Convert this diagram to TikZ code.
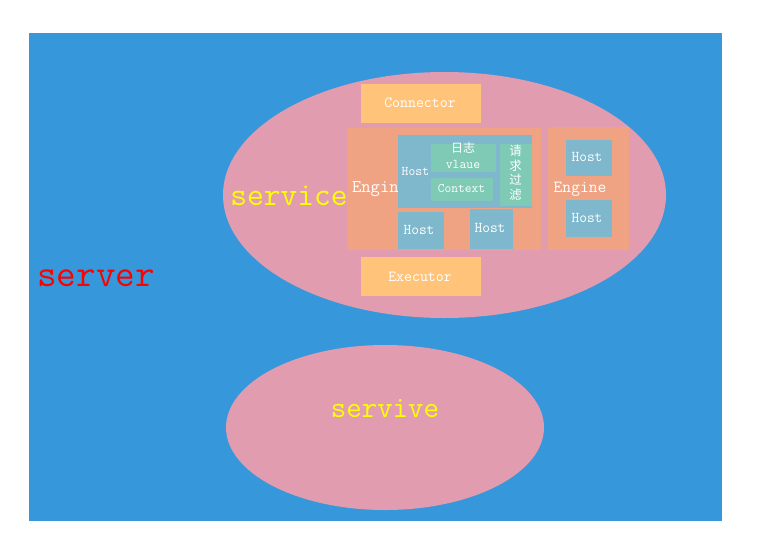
\documentclass[tikz,border=0pt]{standalone}
\usepackage{fontspec}
\newfontfamily\cjk{Noto Sans CJK SC}
\definecolor{bgblue}{RGB}{54,152,219}
\definecolor{pinkel}{RGB}{226,156,175}
\definecolor{orangebox}{RGB}{255,195,122}
\definecolor{enginec}{RGB}{240,163,131}
\definecolor{hostc}{RGB}{127,184,204}
\definecolor{greenc}{RGB}{126,202,181}
\definecolor{yel}{RGB}{255,255,0}
\newcommand{\fs}[1]{\ttfamily\fontsize{#1}{#1}\selectfont}
\newcommand{\cfs}[1]{\cjk\fontsize{#1}{#1}\selectfont}
\tikzset{
  wtxt/.style={text=white, inner sep=0pt},
}
\begin{document}
\begin{tikzpicture}[x=1pt,y=-1pt]
\useasboundingbox (0,0) rectangle (760,550);
\fill[white] (0,0) rectangle (760,550);
% server background
\fill[bgblue] (29,33) rectangle (722,521);
\node[text=red, inner sep=0pt, font=\fs{38}] (server) at (96,278) {server};
% ellipses
\fill[pinkel] (444.5,195) ellipse [x radius=221.5, y radius=123];
\fill[pinkel] (385,427.5) ellipse [x radius=159, y radius=82.5];
\node[text=yel, inner sep=0pt, font=\fs{32.5}] (service) at (289,196) {service};
\node[text=yel, inner sep=0pt, font=\fs{30}] (servive) at (385,409) {servive};
% connector / executor
\fill[orangebox] (361,84) rectangle (481,123);
\node[wtxt, font=\fs{15.4}] (conn) at (420,103) {Connector};
\fill[orangebox] (361,257) rectangle (481,296);
\node[wtxt, font=\fs{15.4}] (exec) at (420,277) {Executor};
% left engine
\fill[enginec] (347,128) rectangle (541,250);
\node[wtxt, font=\fs{18}, anchor=west] (eng1) at (352,189) {Engine};
% big host
\fill[hostc] (398,135) rectangle (532,207.5);
\node[wtxt, font=\fs{13.3}, anchor=west] (h1) at (401.5,171) {Host};
\fill[greenc] (431,144) rectangle (496,171.5);
\node[wtxt, font=\cfs{12}] (rz) at (463,148) {日志};
\node[wtxt, font=\fs{13.3}] (vl) at (463,164) {vlaue};
\fill[greenc] (431,177.5) rectangle (492.5,200.5);
\node[wtxt, font=\fs{13.1}] (ctx) at (461.5,188) {Context};
\fill[greenc] (500,144) rectangle (532,206);
\node[wtxt, font=\cfs{12.5}] (q1) at (515.5,151) {请};
\node[wtxt, font=\cfs{12.5}] (q2) at (515.5,165.5) {求};
\node[wtxt, font=\cfs{12.5}] (q3) at (515.5,180) {过};
\node[wtxt, font=\cfs{12.5}] (q4) at (515.5,194.5) {滤};
% bottom hosts
\fill[hostc] (398,212) rectangle (443.7,248.7);
\node[wtxt, font=\fs{15}] (h2) at (419,230) {Host};
\fill[hostc] (470,209.3) rectangle (512.7,248.7);
\node[wtxt, font=\fs{15}] (h3) at (490,228) {Host};
% right engine
\fill[enginec] (548,127) rectangle (629,249.5);
\node[wtxt, font=\fs{17}] (eng2) at (580,189) {Engine};
\fill[hostc] (566,139.5) rectangle (611.7,175.7);
\node[wtxt, font=\fs{15}] (h4) at (587,157) {Host};
\fill[hostc] (566,200) rectangle (611.7,236.7);
\node[wtxt, font=\fs{15}] (h5) at (587,218) {Host};
\end{tikzpicture}
\end{document}
